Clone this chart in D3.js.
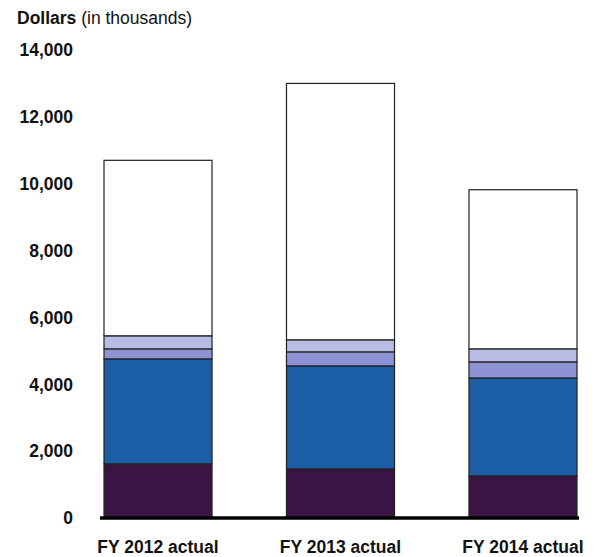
<!DOCTYPE html>
<html>
<head>
<meta charset="utf-8">
<script src="https://cdn.jsdelivr.net/npm/d3@7"></script>
<style>
  body { margin: 0; background: #fff; }
  svg { display: block; font-family: "Liberation Sans", Arial, sans-serif; }
</style>
</head>
<body>
<svg id="chart" width="603" height="557"></svg>
<script>
(function() {
"use strict";

// values in thousands of dollars, bottom segment first
var categories = ["FY 2012 actual", "FY 2013 actual", "FY 2014 actual"];
var seriesNames = ["s1", "s2", "s3", "s4", "s5"];
var s1 = [1620, 1470, 1260];
var s2 = [3140, 3080, 2930];
var s3 = [300, 420, 480];
var s4 = [390, 360, 390];
var s5 = [5250, 7670, 4760];
var yTicks = [0, 2000, 4000, 6000, 8000, 10000, 12000, 14000];
var colors = ["#3b1443", "#1b5ea6", "#8d92d4", "#b9bce5", "#ffffff"];

var svg = d3.select("#chart");

var rows = categories.map(function(c, i) {
  return { cat: c, s1: s1[i], s2: s2[i], s3: s3[i], s4: s4[i], s5: s5[i] };
});

var stack = d3.stack().keys(seriesNames);
var layers = stack(rows);

var x = d3.scaleBand()
  .domain(categories)
  .range([104, 577])
  .paddingInner(0.408)
  .paddingOuter(0);

var y = d3.scaleLinear()
  .domain([0, 14000])
  .range([518, 50]);

// y labels
svg.append("g")
  .selectAll("text")
  .data(yTicks)
  .enter().append("text")
  .attr("x", 73)
  .attr("y", function(d) { return y(d); })
  .attr("dy", "0.36em")
  .attr("text-anchor", "end")
  .style("font-size", "17.5px")
  .style("font-weight", "bold")
  .style("fill", "#111")
  .text(function(d) { return d3.format(",")(d); });

// title
var title = svg.append("text")
  .attr("x", 17)
  .attr("y", 24)
  .style("font-size", "17.5px")
  .style("fill", "#111");
title.append("tspan").style("font-weight", "bold").text("Dollars");
title.append("tspan").text(" (in thousands)");

// bars
var layer = svg.append("g")
  .selectAll("g")
  .data(layers)
  .enter().append("g")
  .attr("fill", function(d, i) { return colors[i]; });

layer.selectAll("rect")
  .data(function(d) { return d; })
  .enter().append("rect")
  .attr("x", function(d) { return x(d.data.cat); })
  .attr("width", x.bandwidth())
  .attr("y", function(d) { return y(d[1]); })
  .attr("height", function(d) { return y(d[0]) - y(d[1]); })
  .attr("stroke", "#222")
  .attr("stroke-width", 1.2);

// baseline
svg.append("line")
  .attr("x1", 100)
  .attr("x2", 579)
  .attr("y1", y(0))
  .attr("y2", y(0))
  .attr("stroke", "#000")
  .attr("stroke-width", 3.5);

// category labels
svg.append("g")
  .selectAll("text")
  .data(categories)
  .enter().append("text")
  .attr("x", function(d) { return x(d) + x.bandwidth() / 2; })
  .attr("y", 553)
  .attr("text-anchor", "middle")
  .style("font-size", "17.5px")
  .style("font-weight", "bold")
  .style("fill", "#111")
  .text(function(d) { return d; });

})();
</script>
</body>
</html>
